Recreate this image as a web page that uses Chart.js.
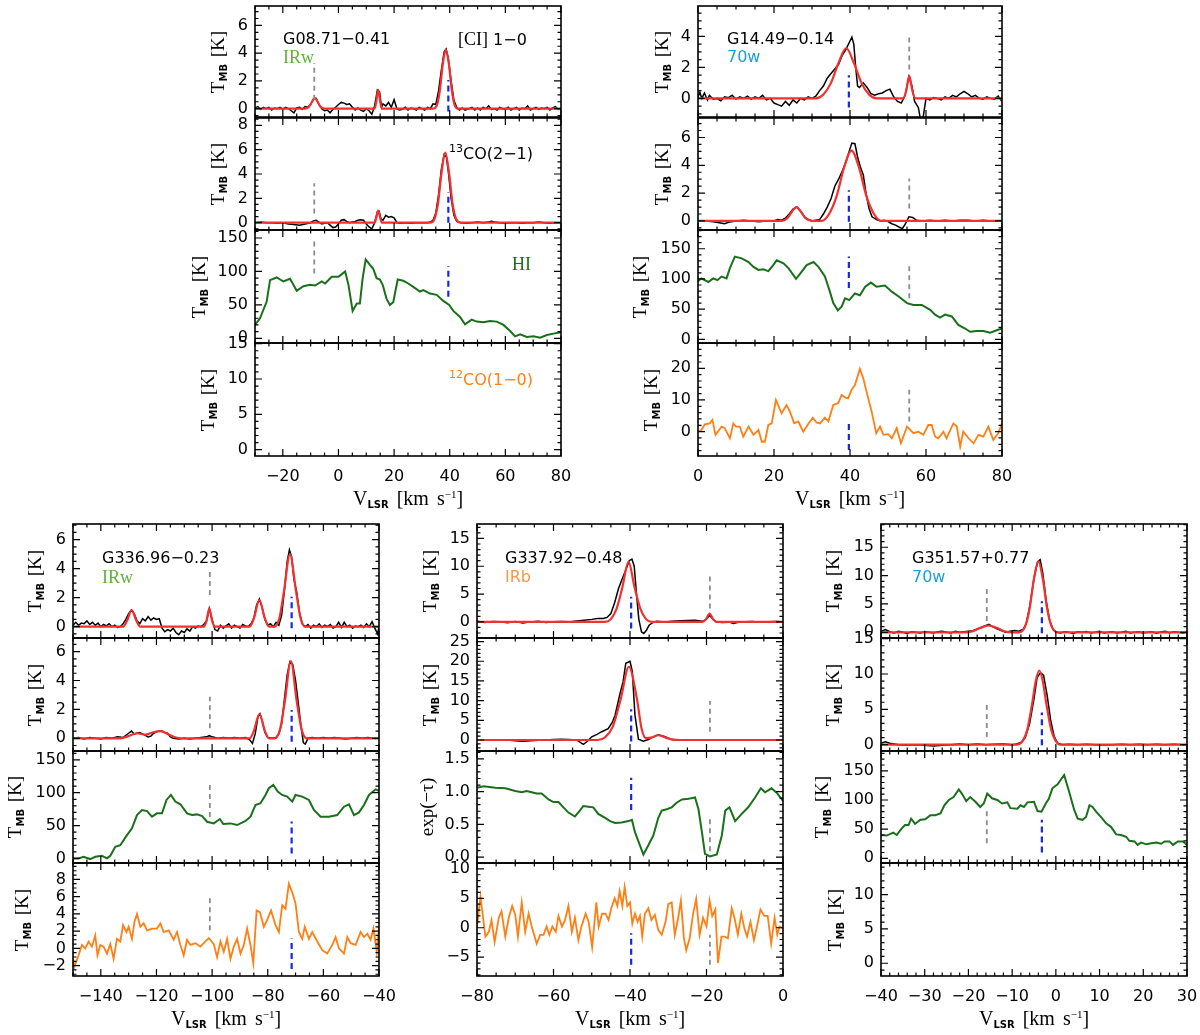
<!DOCTYPE html>
<html>
<head>
<meta charset="utf-8">
<script src="https://cdn.jsdelivr.net/npm/chart.js@4.4.0/dist/chart.umd.min.js"></script>
<style>
  body { margin: 0; background: #fff; width: 1200px; height: 1035px; position: relative; overflow: hidden; }
  canvas { position: absolute; }
  .t { position: absolute; white-space: nowrap; line-height: 1; transform: translateY(-50%); z-index: 5; }
  .sans { font-family: "DejaVu Sans", sans-serif; font-size: 16px; }
  .serif { font-family: "Liberation Serif", serif; font-size: 18px; }
  .yt { position: absolute; white-space: nowrap; line-height: 1; z-index: 5;
        font-family: "Liberation Serif", serif; font-size: 19px; word-spacing: 2px;
        transform: translate(-50%, -50%) rotate(-90deg); }
  .xt { position: absolute; white-space: nowrap; line-height: 1; z-index: 5;
        font-family: "Liberation Serif", serif; font-size: 20px; word-spacing: 3px; transform: translate(-50%, -50%); }
  sub.s { font-family: "DejaVu Sans", sans-serif; font-size: 10px; font-weight: bold; vertical-align: -3px; }
  sup.s { font-size: 11px; vertical-align: 7px; }
</style>
</head>
<body>
<script>
// ---------- G08.71-0.41 ----------
const g08XTicks = [-20, 0, 20, 40, 60, 80];
const g08CiObs = [[-30,0.05],[-29,0.15],[-28,-0.05],[-27,0.1],[-26,0],[-25,0.1],[-24,-0.1],[-23,0.05],[-22,0],[-21,0.1],[-20,-0.05],[-19,0.1],[-18,0],[-17,-0.15],[-16,-0.3],[-15,0.05],[-14,0.1],[-13,-0.05],[-12,0.15],[-11,0.1],[-10,0.3],[-9,0.7],[-8,0.75],[-7,0.3],[-6,0],[-5,-0.15],[-4,-0.1],[-3,-0.3],[-2,-0.05],[-1,0.1],[0,0.3],[1,0.45],[2,0.4],[3,0.3],[4,0.35],[5,0.1],[6,-0.1],[7,0.05],[8,-0.1],[9,-0.2],[10,0],[11,-0.15],[12,-0.4],[13,0.2],[14,1.35],[14.8,1.2],[15.5,0.1],[16,0.35],[17,0.2],[18,0.45],[19,0.1],[20,0.65],[21,0],[22,-0.1],[23,-0.05],[24,0.1],[25,-0.1],[26,0.05],[27,0],[28,-0.1],[29,0.1],[30,0],[31,-0.1],[32,0.1],[33,0],[34,0.35],[35,0.3],[36,1.3],[37,2.8],[38,4.1],[38.7,4.3],[39.5,3.6],[40.5,2],[41.5,0.6],[42.5,0.1],[43.5,-0.1],[44.5,0.05],[45.5,-0.1],[47,0],[48,0.1],[49,-0.1],[50,0.05],[51,-0.1],[52,0.1],[53,0],[54,0.2],[55,-0.05],[56,0],[57,-0.1],[58,0.1],[59,0],[60,-0.05],[61,0.1],[62,-0.1],[63,0],[64,0.1],[65,-0.1],[66,0.05],[67,0],[68,0.2],[69,-0.1],[70,0],[71,0.1],[72,-0.05],[73,0.05],[74,0],[75,0.1],[76,-0.1],[77,0.05],[78,0.15],[79,-0.05],[80,0]];
const g08CiFit = [[-30,0],[-12,0],[-10.5,0.15],[-9.5,0.5],[-8.5,0.76],[-7.5,0.5],[-6.5,0.15],[-5,0],[13,0],[13.6,0.5],[14.3,1.36],[15,0.5],[15.6,0],[34,0],[35.5,0.3],[36.5,1.4],[37.5,3.2],[38.6,4.25],[39.7,3.2],[40.7,1.4],[41.7,0.3],[43,0],[80,0]];
const g08CoObs = [[-30,0],[-28,0.05],[-26,0],[-24,0],[-22,-0.05],[-20,0],[-18,-0.1],[-16,-0.15],[-14,-0.2],[-12,-0.1],[-10,0],[-9,0.15],[-8,0.2],[-7,0.05],[-6,-0.1],[-5,-0.05],[-4,0],[-3,-0.2],[-2,-0.4],[-1,-0.35],[0,-0.1],[1,0.2],[2,0.25],[3,0.1],[4,0],[5,0.05],[6,0.1],[7,0.2],[8,0.25],[9,0.2],[10,-0.1],[11,-0.35],[12,-0.5],[13,0],[14,0.9],[14.6,0.95],[15.3,0.3],[16,0.2],[17,0.6],[18,0.45],[19,0.5],[20,0.4],[21,0],[22,-0.05],[24,0],[26,-0.05],[28,0],[30,0],[32,0],[33,0.05],[34,0.2],[35,0.8],[36,2.3],[37,4.4],[38,5.6],[38.8,5.4],[39.6,4],[40.5,2],[41.5,0.6],[42.5,0.1],[44,0],[46,-0.05],[48,0],[50,0.05],[52,0],[54,0.05],[55,0.12],[56,0.05],[58,0],[60,-0.05],[62,0],[64,0],[66,-0.05],[68,0],[70,0],[72,0.05],[74,0],[76,-0.05],[78,0],[80,0]];
const g08CoFit = [[-30,0],[13,0],[13.6,0.4],[14.3,1.0],[15,0.4],[15.6,0],[33,0],[34.5,0.3],[35.8,1.6],[37,4.0],[38.4,5.75],[39.8,4.0],[41,1.6],[42.3,0.3],[44,0],[80,0]];
const g08Hi = [[-30,20],[-28.2,30],[-25.8,55],[-24.6,87],[-22.2,91],[-19.8,85],[-17.4,89],[-15,71],[-12.6,78],[-10.2,80],[-8.4,79],[-6,85],[-4.8,82],[-2.4,92],[0,92],[1.2,96],[2.4,100],[3.6,80],[5.1,41],[6.6,52],[7.7,52],[8.7,90],[9.8,118],[11.3,110],[12.5,104],[13.7,90],[14.9,88],[15.9,80],[17.3,59],[18.5,50],[19.7,54],[21.3,88],[23.3,86],[25.1,82],[26.9,77],[29.3,70],[30.5,72],[32.9,67],[35.3,65],[37.7,56],[39.8,50],[41.3,41],[43.7,32],[45.5,21],[47.9,28],[49.7,25],[52.1,24],[54.5,26],[56.9,25],[59.3,20],[61.7,11],[63.5,3],[65.3,6],[67.7,2],[70.1,3],[72.5,1],[74.9,5],[77.3,7],[80,9]];
const g08Grey = -8.7, g08Blue = 39.5;
const g08GreyY = [[0.64,3.3],[0.75,3.25],[97,145],null];
const g08BlueY = [[-0.2,2.07],[0,2.5],[62,108],null];

// ---------- G14.49-0.14 ----------
const g14XTicks = [0, 20, 40, 60, 80];
const g14CiObs = [[0,0.1],[0.5,0.4],[1,0],[1.7,0.35],[2.5,-0.1],[3,0.2],[4,-0.05],[5,0],[6,-0.15],[7,0.1],[8,0.05],[9,0.2],[10,-0.05],[11,0.1],[12,0],[13,0.15],[14,-0.05],[15,0.1],[16,0],[17,0.2],[18,-0.1],[19,0],[20,-0.3],[21,-0.4],[22,-0.5],[23,-0.2],[24,-0.45],[25,-0.1],[26,-0.3],[27,0],[28,-0.1],[29,0.1],[30,0],[31,0.15],[32,0.5],[33,0.8],[34,1.3],[35,1.6],[36,1.9],[37,2.2],[38,2.8],[39,3.2],[40,3.7],[40.5,3.95],[41,3.5],[41.5,2],[42,0.8],[42.5,0.7],[43.5,1],[44.5,0.7],[45.5,0.3],[46.5,0.2],[47.5,0.3],[48.5,0.35],[49.5,0.5],[50.5,0.6],[51.5,0.1],[52.5,-0.2],[53.5,-0.3],[54.5,0.2],[55.5,1.4],[56.3,0.8],[57,-0.2],[58,-0.6],[58.5,-1.3],[59.2,-1.3],[60,0],[61,-0.1],[62,0.05],[63,0],[64,-0.1],[65,0.1],[66,0],[67,0.2],[68,0.1],[69,0.3],[70,0.45],[71,0.3],[72,0.1],[73,0.2],[74,0],[75,-0.05],[76,0.1],[77,0],[78,-0.05],[79,0.15],[80,-0.2]];
const g14CiFit = [[0,0],[31,0],[33,0.25],[35,1.0],[37,2.3],[39,3.25],[41,2.3],[43,1.0],[45,0.25],[47,0],[54,0],[54.8,0.5],[55.6,1.45],[56.4,0.5],[57.2,0],[80,0]];
const g14CoObs = [[0,0],[2,0],[4,-0.05],[6,-0.15],[7,-0.2],[8,-0.1],[10,0],[12,0.05],[14,0],[16,-0.05],[18,0],[20,0],[21,0.1],[22,0.05],[23,0.2],[24,0.5],[25,0.85],[26,1.0],[27,0.7],[28,0.3],[29,0.1],[30,0],[31,0.05],[32,0.1],[33,0.5],[34,1.0],[35,1.6],[36,2.5],[37,3.0],[38,3.6],[39,4.3],[40,5.2],[40.5,5.6],[41.3,5.55],[42,4.6],[42.7,3.9],[43.5,3.3],[44.2,2.0],[45,0.9],[45.8,0.3],[47,0.1],[48,0],[49,0.05],[50,-0.05],[51,-0.2],[52,-0.3],[53,-0.45],[53.8,-0.55],[54.6,-0.2],[55.5,0.3],[56.5,0.25],[57.5,0.05],[59,0],[61,0.05],[63,0],[65,0.05],[67,0],[69,0.05],[71,0.05],[73,0],[75,0.05],[77,0],[79,0],[80,0]];
const g14CoFit = [[0,0],[22,0],[23.5,0.2],[24.8,0.7],[25.9,1.0],[27,0.7],[28.3,0.2],[30,0],[32.5,0],[34.5,0.5],[36.5,1.8],[38.5,3.9],[40.4,5.05],[42.3,3.9],[44.3,1.8],[46.3,0.5],[48.3,0],[80,0]];
const g14Hi = [[0,96],[0.9,101],[2.7,95],[4,101],[5.1,98],[6.2,104],[7.5,101],[8.4,118],[9.7,137],[11.5,134],[13.3,128],[14.6,120],[15.9,115],[17.2,116],[18.5,113],[19.8,123],[20.7,131],[22.5,126],[23.8,118],[25.8,100],[27.3,112],[28.6,123],[30.4,128],[31.7,120],[33.4,104],[34.7,79],[35.6,60],[36.8,48],[37.8,54],[38.7,68],[39.8,65],[41.3,76],[42.6,73],[44,87],[45.5,94],[47,87],[49.2,89],[51,79],[52.8,71],[55,60],[56.7,57],[58.9,57],[61.1,49],[62.4,41],[63.7,36],[65,41],[66.8,38],[68.5,24],[70.3,18],[71.6,12.5],[73.4,14],[75.1,14],[76.9,11],[78.6,15],[80,18]];
const g14Co12 = [[0,0],[0.9,0.5],[1.8,2.3],[3.1,2.6],[3.8,3.7],[4.6,-1],[6.2,1.6],[7,1.1],[8.4,-2.1],[9.3,2.6],[10,1.6],[11,1.6],[11.9,-1.6],[13.3,1.6],[14.6,-1],[15.9,0.5],[16.8,-3.2],[17.6,-3.2],[18.5,2.1],[19.4,2.6],[20.5,10],[22,5.8],[23.3,8.4],[24.2,6.3],[25.3,2.6],[26.4,3.2],[27.7,0],[29.1,2.6],[30.2,4.4],[31.2,2.9],[32.1,2.6],[33.4,4.4],[34.3,3.2],[35.6,8.4],[36.9,9],[37.8,11.6],[38.7,10.8],[39.5,10.5],[40.4,13.2],[41.3,14.7],[42.6,19.8],[43.5,16.8],[44.8,10.5],[45.7,6.3],[46.9,-0.5],[47.9,1.6],[48.8,-1],[50.1,-0.8],[51,-2.1],[52.3,1.1],[53.4,-3.7],[55,1.6],[56.7,-0.5],[58,0],[59.3,-1],[60.6,2.1],[61.5,2.1],[62.4,-1.6],[63.2,-2.1],[64.6,0],[65.4,-2.1],[67.2,2.6],[68.1,1.6],[69,-4.7],[69.8,0],[71.2,-2.1],[72.5,-3.7],[73.8,-1],[75.1,-1.6],[76.4,1.6],[77.7,-2.6],[79,-0.5],[80,2.6]];
const g14Grey = 55.6, g14Blue = 39.7;
const g14GreyY = [[1.87,4.04],[0.9,3.05],[68,122],[3.2,13.2]];
const g14BlueY = [[-0.59,1.49],[-0.05,2.2],[85,137],[-5.8,3.7]];

// ---------- G336.96-0.23 ----------
const g336XTicks = [-140, -120, -100, -80, -60, -40];
const g336CiObs = [[-150,0.1],[-149,0.3],[-148,0.1],[-147,0.25],[-146,0.2],[-145,0.4],[-144,0.15],[-143,0.3],[-142,0.1],[-141,0.25],[-140,0],[-139,0.15],[-138,0.05],[-137,0.2],[-136,0],[-135,0.1],[-134,-0.05],[-133,0],[-132,0.2],[-131,0.5],[-130,0.9],[-129,1.15],[-128,0.9],[-127,0.4],[-126,0.2],[-125,0.55],[-124,0.4],[-123,0.7],[-122,0.45],[-121,0.6],[-120,0.5],[-119,0.55],[-118,-0.1],[-117,-0.35],[-116,-0.2],[-115,-0.3],[-114,-0.1],[-113,-0.4],[-112,-0.55],[-111,-0.3],[-110,-0.4],[-109,-0.15],[-108,-0.3],[-107,0],[-106,-0.1],[-105,0.05],[-104,0],[-103,0.15],[-102,0.4],[-101,1.25],[-100,0.5],[-99,-0.2],[-98,-0.3],[-97,0.1],[-96,-0.1],[-95,0.05],[-94,0.2],[-93,-0.1],[-92,0.1],[-91,0],[-90,-0.1],[-89,0.15],[-88,0.05],[-87,0],[-86,0.2],[-85,0.6],[-84,1.5],[-83,1.9],[-82,1.3],[-81,0.5],[-80,0.1],[-79,0.2],[-78,0],[-77,0.3],[-76,0.1],[-75,0.8],[-74,2.5],[-73,4.5],[-72.2,5.3],[-71.4,4.8],[-70.6,3.3],[-69.6,2.4],[-68.6,1.0],[-67.6,0.2],[-66.5,0],[-65.5,0.15],[-64.5,-0.1],[-63.5,0.1],[-62.5,0],[-61.5,0.2],[-60.5,-0.05],[-59.5,0.1],[-58.5,0],[-57.5,0.15],[-56.5,-0.1],[-55.5,0],[-54.5,0.3],[-53.5,-0.05],[-52.5,0.3],[-51.5,0],[-50.5,0.1],[-49.5,-0.1],[-48.5,0.05],[-47.5,0],[-46.5,0.1],[-45.5,-0.05],[-44.5,0.2],[-43.5,0],[-42.5,0.35],[-41.5,-0.1],[-40.5,-0.5],[-40,0]];
const g336CiFit = [[-150,0],[-132,0],[-130.5,0.45],[-128.9,1.15],[-127.3,0.45],[-125.8,0],[-103,0],[-102,0.4],[-101,1.27],[-100,0.4],[-99,0],[-86.5,0],[-85,0.55],[-83,1.84],[-81,0.55],[-79.5,0],[-77.5,0],[-75.8,0.6],[-74.2,2.4],[-72,4.99],[-69.8,2.4],[-68.2,0.6],[-66.5,0],[-40,0]];
const g336CoObs = [[-150,0],[-148,0.05],[-146,-0.05],[-144,0.05],[-142,0],[-140,-0.05],[-138,0.05],[-136,0],[-134,0.1],[-132,0.05],[-130,0.35],[-129,0.5],[-128,0.3],[-127,0.35],[-126,0.4],[-125,0.3],[-124,0.2],[-123,0.1],[-122,0.15],[-121,0.35],[-120,0.45],[-119,0.5],[-118,0.5],[-117,0.4],[-116,0.35],[-115,0.1],[-114,0],[-112,-0.05],[-110,0],[-108,-0.05],[-106,0],[-104,0.05],[-102,0.1],[-101,0.18],[-100,0.1],[-98,0],[-96,0.05],[-94,0],[-92,0.05],[-90,0],[-88,0.05],[-86.5,-0.1],[-85.5,-0.35],[-84.5,0.3],[-83.5,1.5],[-82.8,1.7],[-82,1.2],[-81,0.4],[-80,0.05],[-78.5,0],[-77,0.05],[-76,0.3],[-75,1.0],[-74,2.7],[-73,4.4],[-72,5.3],[-71,5.1],[-70,4.0],[-69,2.4],[-68,0.8],[-67.2,-0.3],[-66.5,-0.4],[-65.5,0],[-64,0.05],[-62,0],[-60,0.05],[-58,0],[-56,0.05],[-54,0],[-52,-0.05],[-50,0],[-48,0.05],[-46,0],[-44,0.05],[-42,0],[-40,0]];
const g336CoFit = [[-150,0],[-133,0],[-130,0.15],[-127,0.35],[-124,0.25],[-121.5,0.4],[-118.5,0.5],[-116,0.3],[-113,0.05],[-111,0],[-86.5,0],[-85,0.5],[-83,1.68],[-81,0.5],[-79.5,0],[-77.5,0],[-75.6,0.6],[-73.8,2.6],[-71.7,5.35],[-69.6,2.6],[-67.8,0.6],[-66,0],[-40,0]];
const g336Hi = [[-150,0],[-148,0],[-146.2,2.5],[-143.8,-1],[-142,2.5],[-139.6,4],[-137.8,0],[-136.6,4],[-134.8,17.7],[-133,20],[-130.6,35.5],[-128.8,45.7],[-127,65.9],[-125.2,73.5],[-123.4,72],[-121.6,63.5],[-119.8,68.6],[-118,68.6],[-116.4,89],[-114.8,96.6],[-113.2,86.5],[-111.4,82.4],[-109,68.6],[-107.2,66],[-105.4,67],[-103.6,64.5],[-101.8,55.8],[-99.4,53.3],[-97.2,59.9],[-96,52.3],[-93.4,53.3],[-91,50.8],[-88,56.9],[-86.2,63.5],[-84.4,81.3],[-82.6,83.9],[-80.8,96.6],[-79.6,106.8],[-78,111.8],[-76.4,101.6],[-74.8,96.6],[-73,94],[-71.2,86.4],[-70,96.6],[-67.6,94],[-65.2,89],[-63.4,73.7],[-61,63.5],[-58,63.5],[-55,66],[-52.6,78.7],[-50.8,82.4],[-49,66],[-47.2,70],[-45.4,81.3],[-43.6,96.6],[-41.2,105.2],[-40,103]];
const g336Co12 = [[-150,-1.2],[-149.5,-2.1],[-148,-0.8],[-146.8,0.4],[-145.6,0],[-144.4,0.8],[-143.2,0.2],[-142,1.5],[-141.2,-0.8],[-140.2,0.4],[-139,0.2],[-137.8,-0.6],[-136.6,0.5],[-135.4,-1.2],[-134.2,1.1],[-133,0.8],[-132,2.7],[-130.8,1.9],[-130,2.5],[-128.8,1.1],[-127.9,3.1],[-127,4.0],[-125.8,2.5],[-124.6,2.9],[-123.4,2.1],[-121.6,2.3],[-119.8,2.3],[-118.6,2.9],[-117.4,1.9],[-115.6,2.1],[-113.8,1.0],[-112.6,1.9],[-111.4,0.4],[-110.2,-0.8],[-109,1.0],[-107.8,0.4],[-106,0.6],[-104.2,0.2],[-102.4,0.8],[-101.2,1.2],[-99.4,0.5],[-98.2,-1.0],[-97,0.8],[-95.8,-0.4],[-94.6,1.1],[-93.4,-1.2],[-92.2,0.2],[-91,1.1],[-89.8,-0.6],[-88.6,0.4],[-87.4,2.3],[-86.2,0.4],[-85.2,-1.7],[-84,4.4],[-82.8,4.2],[-81.4,2.5],[-80.2,3.3],[-78.8,4.4],[-77.2,2.7],[-76,1.9],[-74.8,5.0],[-73.6,4.6],[-72.4,7.5],[-71.2,6.5],[-70,5.2],[-68.8,1.9],[-67.6,1.1],[-66.7,2.5],[-65.2,1.1],[-64,1.9],[-62.2,0.8],[-60.4,-0.2],[-58.6,-0.6],[-56.8,0.4],[-55.6,1.3],[-54.4,0],[-52.6,-0.6],[-51.4,1.3],[-50.2,0.6],[-48.4,0.4],[-46.6,1.9],[-45.4,1.3],[-44.2,1.7],[-43,1.0],[-42,2.3],[-40.8,-0.4],[-40,2.5]];
const g336Grey = -100.8, g336Blue = -71.4;
const g336GreyY = [[2.19,4.03],[0.69,2.88],[63,113],[2.1,5.8]];
const g336BlueY = [[-0.11,2.07],[-0.24,1.96],[7.6,56],[-2.4,1.16]];

// ---------- G337.92-0.48 ----------
const g337XTicks = [-80, -60, -40, -20, 0];
const g337CiObs = [[-80,0.1],[-78,-0.1],[-76,0.05],[-74,0],[-72,-0.15],[-70,0.05],[-68,-0.2],[-66,0],[-64,0.1],[-62,-0.1],[-60,0],[-58,0.05],[-56,0],[-54,0.15],[-52,0.3],[-50,0.45],[-48.5,0.6],[-47,0.6],[-46,0.8],[-45,1.5],[-44,3.5],[-43,6.0],[-42,7.8],[-41,9.5],[-40.2,11.0],[-39.5,11.3],[-38.9,10.0],[-38.3,5.0],[-37.7,0.5],[-37,-1.8],[-36.4,-2.1],[-35.7,-1.5],[-35,-0.6],[-34,-0.1],[-33,0.1],[-31,0],[-29,0.1],[-27,0.2],[-25,0.25],[-23,0.3],[-22,0.2],[-21,0.1],[-20,0.5],[-19.2,1.2],[-18.5,0.6],[-17.5,0],[-16,-0.1],[-14,-0.05],[-13,-0.3],[-12,-0.1],[-10,0],[-8,0.05],[-6,-0.05],[-4,0],[-2,0.05],[0,0]];
const g337CiFit = [[-80,0],[-46.5,0],[-45,0.5],[-43.5,2.4],[-42,6.2],[-40.4,10.8],[-38.8,6.2],[-37.3,2.4],[-35.8,0.5],[-34.3,0],[-21,0],[-20.1,0.5],[-19.2,1.5],[-18.3,0.5],[-17.4,0],[0,0]];
const g337CoObs = [[-80,0],[-76,0.05],[-72,0],[-70,-0.2],[-68,-0.35],[-66,-0.2],[-64,-0.1],[-62,0],[-60,0.15],[-58,0.2],[-56,0.1],[-54,0],[-53,-0.6],[-52.2,-1.1],[-51.2,-0.4],[-50,0.8],[-48.5,1.5],[-47.4,2.1],[-45.7,2.9],[-44.6,4.5],[-43.9,6.3],[-42.6,11.8],[-41.8,14.8],[-41.1,19.5],[-40,20.0],[-39.4,17.4],[-38.7,6.3],[-37.8,0.2],[-36.5,-0.3],[-35.2,0.1],[-34.3,0.6],[-32.6,1.3],[-30.8,0.8],[-29.1,0.1],[-27,0],[-24,0.05],[-21,0],[-18,-0.05],[-15,0],[-12,0.05],[-9,0],[-6,0],[-3,0.05],[0,0]];
const g337CoFit = [[-80,0],[-48.5,0],[-46.5,0.7],[-44.5,3.4],[-42.4,10.5],[-40.3,18.6],[-38.2,10.5],[-37,3.0],[-35.8,0.5],[-34.5,0.6],[-32.6,1.2],[-30.7,0.6],[-28.8,0.1],[-27,0],[0,0]];
const g337Tau = [[-80,1.06],[-78.3,1.08],[-75.2,1.06],[-72.6,1.05],[-70,1.01],[-68.3,0.99],[-67,1.01],[-65.7,0.99],[-64.4,0.97],[-63.1,0.97],[-61.3,0.88],[-60,0.84],[-58.7,0.84],[-57.4,0.76],[-56.1,0.68],[-54.4,0.62],[-53.1,0.71],[-52.2,0.78],[-50.9,0.77],[-49.6,0.76],[-48.3,0.66],[-46.5,0.6],[-45.2,0.55],[-43.9,0.52],[-42.2,0.53],[-40.4,0.55],[-39.5,0.57],[-38.7,0.38],[-37.4,0.18],[-36.5,0.04],[-35.2,0.18],[-33.9,0.33],[-32.6,0.6],[-31.7,0.71],[-30.4,0.73],[-29.1,0.76],[-27.8,0.83],[-26.4,0.88],[-24.7,0.89],[-23,0.91],[-22.1,0.73],[-21.2,0.38],[-20.4,0.05],[-19.1,0.01],[-17.3,0.04],[-16,0.33],[-15.1,0.71],[-14,0.76],[-12.5,0.55],[-10.8,0.66],[-9.1,0.76],[-7.3,0.91],[-5.8,1.05],[-4.7,0.99],[-3,1.05],[-1.6,0.98],[0,0.86]];
const g337Co12 = [[-80,0.2],[-79.1,5.3],[-78.5,2.2],[-77.8,-1.5],[-76.9,-0.7],[-76.2,1.3],[-75.4,-2.4],[-74.3,1.7],[-73.6,2.8],[-72.6,-1.5],[-71.7,1.7],[-70.8,3.7],[-70,2.2],[-69.3,-1.5],[-68.3,4.3],[-67.4,-0.7],[-66.5,2.4],[-65.7,0.2],[-64.4,-2.7],[-63.5,-1.2],[-62.6,-1.2],[-61.8,0.2],[-61.1,-1.2],[-60.3,0.2],[-59.4,-0.7],[-58.7,2.0],[-57.8,0.2],[-57,1.3],[-56.1,3.7],[-55.2,-0.7],[-54.4,1.7],[-53.5,-2.1],[-52.7,0.2],[-51.6,2.4],[-50.8,1.0],[-49.9,-3.3],[-48.8,4.3],[-48.2,0.2],[-47.3,2.4],[-46.4,2.4],[-45.6,1.3],[-44.9,3.3],[-44,5.0],[-43.3,3.7],[-42.7,6.2],[-42,3.7],[-41.4,6.9],[-40.7,3.7],[-40,4.3],[-39.4,0.7],[-38.7,2.4],[-38,1.0],[-37.4,2.0],[-36.8,-1.5],[-36.1,2.4],[-35.2,3.3],[-34.4,1.3],[-33.5,2.2],[-32.6,-0.4],[-31.7,-1.2],[-30.7,1.0],[-30,4.0],[-29.1,4.3],[-28.3,-1.2],[-27.4,1.7],[-26.7,4.6],[-25.9,-1.8],[-25.3,-3.8],[-24.4,-1.8],[-23.5,2.4],[-22.7,4.9],[-21.8,-1.2],[-20.9,1.7],[-20,0.2],[-19.2,4.6],[-18.5,2.0],[-17.7,3.1],[-17,-6.0],[-16.1,-1.5],[-15.3,-1.5],[-14.4,-1.8],[-13.4,3.3],[-12.7,1.7],[-11.8,-1.2],[-10.9,2.4],[-10.1,-0.1],[-9.4,-1.5],[-8.5,1.0],[-7.6,-2.1],[-6.8,0.2],[-5.9,3.1],[-4.9,2.0],[-4,2.0],[-3.1,-2.7],[-2.2,1.7],[-1.5,-1.2],[-0.9,0.2],[0,-0.1]];
const g337Grey = -19.1, g337Blue = -39.7;
const g337GreyY = [[2.4,8.4],[2.1,9.9],[0.09,0.62],[-6.3,-1.2]];
const g337BlueY = [[-1.2,4.5],[-0.4,7.8],[0.72,1.21],[-6.3,-0.95]];

// ---------- G351.57+0.77 ----------
const g351XTicks = [-40, -30, -20, -10, 0, 10, 20, 30];
const g351CiObs = [[-40,0.2],[-39,0.5],[-38,0.1],[-37,-0.1],[-36,0.2],[-35,0],[-34,-0.2],[-33,0.1],[-32,0],[-31,-0.1],[-30,0.15],[-29,0],[-28,-0.1],[-27,0.1],[-26,0.2],[-25,0],[-24,-0.1],[-23,0.2],[-22,0],[-21,0.1],[-20,0.2],[-19,0.3],[-18,0.6],[-17,0.9],[-16,1.2],[-15.3,1.4],[-14.5,1.0],[-13.5,0.6],[-12.5,0.3],[-11.5,0],[-10.5,0.2],[-9.5,0.3],[-8.5,0.2],[-7.5,0.5],[-6.8,1.5],[-6,4.5],[-5,9.5],[-4.2,12.4],[-3.6,12.8],[-3,10.5],[-2.2,5.5],[-1.4,2.0],[-0.6,0.5],[0.2,0],[1,-0.1],[2,0.1],[3,0],[4,-0.2],[5,0.1],[6,0],[7,0.15],[8,-0.1],[9,0],[10,0.2],[11,-0.1],[12,0],[13,0.1],[14,-0.1],[15,0],[16,0.2],[17,-0.1],[18,0],[19,0.1],[20,-0.1],[21,0],[22,0.1],[23,-0.15],[24,0.05],[25,0.2],[26,-0.1],[27,0.1],[28,0],[29,-0.1],[30,0]];
const g351CiFit = [[-40,0],[-21,0],[-19,0.2],[-17.2,0.8],[-15.4,1.2],[-13.6,0.8],[-11.8,0.2],[-10,0],[-8.5,0],[-7,1.1],[-6,4.2],[-5,9.5],[-4,12.5],[-3,9.5],[-2,4.2],[-1,1.1],[0.5,0],[30,0]];
const g351CoObs = [[-40,0.2],[-39,0.4],[-38,0.2],[-36,0],[-34,-0.1],[-32,0],[-30,-0.1],[-28,-0.2],[-26,-0.1],[-24,0],[-22,0.1],[-20,0],[-18,0.1],[-16,0],[-14,0.05],[-12,0.1],[-10,0],[-9,0.1],[-8,0.3],[-7,1.0],[-6,3.0],[-5,6.5],[-4.3,9.5],[-3.5,10.2],[-2.8,9.8],[-2,7.0],[-1.2,3.5],[-0.4,1.2],[0.4,0.2],[1.5,0],[3,0.05],[5,0],[7,0.05],[9,0],[11,-0.05],[13,0],[15,0.05],[17,0],[19,0.05],[21,0],[23,0.05],[25,0],[27,0.05],[29,0],[30,0]];
const g351CoFit = [[-40,0],[-9,0],[-7.5,0.6],[-6.5,2.2],[-5.5,5.5],[-4.6,9.0],[-3.8,10.5],[-3,9.0],[-2.1,5.5],[-1.1,2.2],[-0.1,0.6],[1,0],[30,0]];
const g351Hi = [[-40,40],[-38.7,39],[-37.2,44],[-36.4,40],[-35.3,51],[-34.5,57],[-33.7,57],[-33.1,68],[-32.2,59],[-31,66],[-29.9,67],[-28.7,74],[-27.6,74],[-26.4,77],[-25.5,91],[-24.5,100],[-23.4,105],[-22.2,118],[-21.5,111],[-20.5,98],[-19.6,105],[-18.4,97],[-17.3,88],[-16.5,94],[-15.7,111],[-14.6,103],[-13.4,100],[-12.3,94],[-11.1,96],[-10.4,86],[-8.8,85],[-8.1,91],[-7.3,88],[-6.5,96],[-5,97],[-4.2,81],[-3.3,80],[-2.3,94],[-1.6,102],[-0.8,120],[0.4,127],[1.9,143],[3,115],[4.2,83],[5,68],[6.1,66],[6.9,71],[7.7,91],[8.4,88],[9.2,80],[10.3,71],[11.5,60],[12.6,54],[13.8,41],[14.9,40],[16.1,37],[16.8,30],[18,29],[18.7,23],[19.5,27],[20.7,24],[21.8,26],[23,27],[24.1,25],[24.9,29],[26,29],[26.8,23],[27.9,29],[29.1,29],[30,23]];
const g351Grey = -15.8, g351Blue = -3.2;
const g351GreyY = [[2.0,7.9],[1.1,5.6],[26,83],null];
const g351BlueY = [[-0.18,5.5],[-0.07,4.56],[10,66],null];

// ---------- layout ----------
const YW = 60, PT = 20, PB = 20, PR = 30, XH = 34;
const TB = 'T<sub class="s">MB</sub> [K]';

const groups = [
  { left: 255, width: 306, tops: [6, 117.5, 230, 343, 456], xMin: -30, xMax: 80, xTicks: g08XTicks, xMinor: 5,
    vGrey: g08Grey, vBlue: g08Blue, greyY: g08GreyY, blueY: g08BlueY, titleY: 499,
    panels: [
      { yMin: -0.6, yMax: 7.4, yTicks: [0, 2, 4, 6], yMinor: 0.5, tx: 218, series: [[g08CiObs, 'obs'], [g08CiFit, 'fit']] },
      { yMin: -0.6, yMax: 8.6, yTicks: [0, 2, 4, 6, 8], yMinor: 0.5, tx: 218, series: [[g08CoObs, 'obs'], [g08CoFit, 'fit']] },
      { yMin: -7, yMax: 162, yTicks: [0, 50, 100, 150], yMinor: 10, tx: 199, series: [[g08Hi, 'hi']] },
      { yMin: -0.9, yMax: 15.1, yTicks: [0, 5, 10, 15], yMinor: 1, tx: 208, series: [] }
    ] },
  { left: 698, width: 304, tops: [6, 117.5, 230, 343, 456], xMin: 0, xMax: 80, xTicks: g14XTicks, xMinor: 5,
    vGrey: g14Grey, vBlue: g14Blue, greyY: g14GreyY, blueY: g14BlueY, titleY: 499,
    panels: [
      { yMin: -1.2, yMax: 5.96, yTicks: [0, 2, 4], yMinor: 0.5, tx: 662, series: [[g14CiObs, 'obs'], [g14CiFit, 'fit']] },
      { yMin: -0.65, yMax: 7.4, yTicks: [0, 2, 4, 6], yMinor: 0.5, tx: 662, series: [[g14CoObs, 'obs'], [g14CoFit, 'fit']] },
      { yMin: -6, yMax: 181, yTicks: [0, 50, 100, 150], yMinor: 10, tx: 640, series: [[g14Hi, 'hi']] },
      { yMin: -7.7, yMax: 28, yTicks: [0, 10, 20], yMinor: 2, tx: 651, series: [[g14Co12, 'co']] }
    ] },
  { left: 73, width: 306, tops: [524, 638, 751, 863, 976], xMin: -150, xMax: -40, xTicks: g336XTicks, xMinor: 5,
    vGrey: g336Grey, vBlue: g336Blue, greyY: g336GreyY, blueY: g336BlueY, titleY: 1019,
    panels: [
      { yMin: -0.78, yMax: 7.08, yTicks: [0, 2, 4, 6], yMinor: 0.5, tx: 35, series: [[g336CiObs, 'obs'], [g336CiFit, 'fit']] },
      { yMin: -0.88, yMax: 6.94, yTicks: [0, 2, 4, 6], yMinor: 0.5, tx: 35, series: [[g336CoObs, 'obs'], [g336CoFit, 'fit']] },
      { yMin: -7, yMax: 163.5, yTicks: [0, 50, 100, 150], yMinor: 10, tx: 15, series: [[g336Hi, 'hi']] },
      { yMin: -3.2, yMax: 9.9, yTicks: [-2, 0, 2, 4, 6, 8], yMinor: 0.5, tx: 22, series: [[g336Co12, 'co']] }
    ] },
  { left: 477, width: 306, tops: [524, 638, 751, 863, 976], xMin: -80, xMax: 0, xTicks: g337XTicks, xMinor: 5,
    vGrey: g337Grey, vBlue: g337Blue, greyY: g337GreyY, blueY: g337BlueY, titleY: 1019,
    panels: [
      { yMin: -2.9, yMax: 17.6, yTicks: [0, 5, 10, 15], yMinor: 1, tx: 430, series: [[g337CiObs, 'obs'], [g337CiFit, 'fit']] },
      { yMin: -2.8, yMax: 25.9, yTicks: [0, 5, 10, 15, 20, 25], yMinor: 1, tx: 430, series: [[g337CoObs, 'obs'], [g337CoFit, 'fit']] },
      { yMin: -0.09, yMax: 1.62, yTicks: [0, 0.5, 1, 1.5], yMinor: 0.1, dec: 1, tx: 426, title: 'exp(−τ)', series: [[g337Tau, 'hi']] },
      { yMin: -8.2, yMax: 11, yTicks: [-5, 0, 5, 10], yMinor: 1, tx: null, series: [[g337Co12, 'co']] }
    ] },
  { left: 881, width: 306, tops: [524, 638, 751, 863, 976], xMin: -40, xMax: 30, xTicks: g351XTicks, xMinor: 2,
    vGrey: g351Grey, vBlue: g351Blue, greyY: g351GreyY, blueY: g351BlueY, titleY: 1019,
    panels: [
      { yMin: -1, yMax: 19.1, yTicks: [0, 5, 10, 15], yMinor: 1, tx: 833, series: [[g351CiObs, 'obs'], [g351CiFit, 'fit']] },
      { yMin: -0.9, yMax: 15.1, yTicks: [0, 5, 10, 15], yMinor: 1, tx: 833, series: [[g351CoObs, 'obs'], [g351CoFit, 'fit']] },
      { yMin: -8, yMax: 184, yTicks: [0, 50, 100, 150], yMinor: 10, tx: 822, series: [[g351Hi, 'hi']] },
      { yMin: -1.86, yMax: 14.6, yTicks: [0, 5, 10], yMinor: 1, tx: 835, series: [] }
    ] }
];

const sty = {
  obs: { color: '#000000', w: 1.5, order: 3 },
  fit: { color: '#f23030', w: 2.2, order: 2 },
  hi:  { color: '#1a701a', w: 2, order: 3 },
  co:  { color: '#ff7f14', w: 1.8, order: 3 }
};

Chart.defaults.font.family = '"DejaVu Sans", sans-serif';
Chart.defaults.font.size = 16;
Chart.defaults.color = '#000';

const minus = s => s.replace('-', '\u2212');

// box + inward IDL style ticks on all four sides
const frameTicks = {
  id: 'frameTicks',
  afterDraw(chart, args, o) {
    const { ctx, chartArea: a } = chart;
    const sx = chart.scales.x, sy = chart.scales.y;
    ctx.save();
    ctx.strokeStyle = '#000';
    ctx.lineWidth = 1.2;
    ctx.beginPath();
    for (let k = Math.ceil(sx.min / o.xMinor - 1e-9); k * o.xMinor <= sx.max + 1e-9; k++) {
      const v = k * o.xMinor, px = sx.getPixelForValue(v);
      const len = o.xTicks.some(t => Math.abs(t - v) < 1e-6) ? 7 : 3.5;
      ctx.moveTo(px, a.bottom); ctx.lineTo(px, a.bottom - len);
      ctx.moveTo(px, a.top); ctx.lineTo(px, a.top + len);
    }
    for (let k = Math.ceil(sy.min / o.yMinor - 1e-9); k * o.yMinor <= sy.max + 1e-9; k++) {
      const v = k * o.yMinor, py = sy.getPixelForValue(v);
      const len = o.yTicks.some(t => Math.abs(t - v) < 1e-6) ? 7 : 3.5;
      ctx.moveTo(a.left, py); ctx.lineTo(a.left + len, py);
      ctx.moveTo(a.right, py); ctx.lineTo(a.right - len, py);
    }
    ctx.stroke();
    ctx.lineWidth = 1.6;
    ctx.strokeRect(a.left, a.top, a.width, a.height);
    ctx.restore();
  }
};

function mark(v, yy, color, dash, w) {
  return { data: [[v, yy[0]], [v, yy[1]]], borderColor: color, borderDash: dash, borderWidth: w,
           pointRadius: 0, order: color === '#8c8c8c' ? 1 : 0 };
}

function addPanel(g, i) {
  const p = g.panels[i];
  const top = g.tops[i], h = g.tops[i + 1] - top, last = i === g.panels.length - 1;
  const cv = document.createElement('canvas');
  cv.width = YW + g.width + PR;
  cv.height = PT + h + (last ? XH : PB);
  cv.style.left = (g.left - YW) + 'px';
  cv.style.top = (top - PT) + 'px';
  document.body.appendChild(cv);

  const datasets = p.series.map(([data, kind]) => ({
    data, borderColor: sty[kind].color, borderWidth: sty[kind].w, order: sty[kind].order,
    pointRadius: 0, tension: 0, cubicInterpolationMode: kind === 'fit' ? 'monotone' : 'default'
  }));
  if (g.greyY[i]) datasets.push(mark(g.vGrey, g.greyY[i], '#8c8c8c', [5, 4], 1.8));
  if (g.blueY[i]) datasets.push(mark(g.vBlue, g.blueY[i], '#1428e6', [6, 4], 2.2));

  new Chart(cv, {
    type: 'line',
    data: { datasets },
    options: {
      responsive: false, animation: false, events: [],
      layout: { padding: { top: PT, right: PR, bottom: last ? 0 : PB, left: 0 } },
      plugins: { legend: { display: false }, tooltip: { enabled: false },
        frameTicks: { xMinor: g.xMinor, xTicks: g.xTicks, yMinor: p.yMinor, yTicks: p.yTicks } },
      scales: {
        x: { type: 'linear', min: g.xMin, max: g.xMax,
          grid: { display: false, drawTicks: false }, border: { display: false },
          ticks: { display: last, padding: 11, maxRotation: 0, autoSkip: false,
            callback: v => minus(String(v)) },
          afterBuildTicks: s => { s.ticks = g.xTicks.map(v => ({ value: v })); },
          afterFit: s => { s.height = last ? XH : 0; } },
        y: { type: 'linear', min: p.yMin, max: p.yMax,
          grid: { display: false, drawTicks: false }, border: { display: false },
          ticks: { padding: 7, autoSkip: false,
            callback: v => minus(p.dec ? v.toFixed(p.dec) : String(v)) },
          afterBuildTicks: s => { s.ticks = p.yTicks.map(v => ({ value: v })); },
          afterFit: s => { s.width = YW; } }
      }
    },
    plugins: [frameTicks]
  });

  if (p.tx !== null) {
    const d = document.createElement('div');
    d.className = 'yt';
    d.style.left = p.tx + 'px';
    d.style.top = (top + h / 2) + 'px';
    d.innerHTML = p.title || TB;
    document.body.appendChild(d);
  }
}

groups.forEach(g => {
  g.panels.forEach((p, i) => addPanel(g, i));
  const d = document.createElement('div');
  d.className = 'xt';
  d.style.left = (g.left + g.width / 2) + 'px';
  d.style.top = g.titleY + 'px';
  d.innerHTML = 'V<sub class="s">LSR</sub> [km s<sup class="s">−1</sup>]';
  document.body.appendChild(d);
});

// panel labels
const labels = [
  ['G08.71−0.41', 283, 39, 'sans', '#000'],
  ['IRw', 283, 57, 'serif', '#5cb533'],
  ['<span class="serif">[CI]</span>  1−0', 458, 39, 'sans', '#000'],
  ['<sup class="s">13</sup>CO(2−1)', 449, 152, 'sans', '#000'],
  ['HI', 512, 264, 'serif', '#1a701a'],
  ['<sup class="s">12</sup>CO(1−0)', 449, 378, 'sans', '#ff7f14'],
  ['G14.49−0.14', 727, 39, 'sans', '#000'],
  ['70w', 727, 57, 'sans', '#1e9fd6'],
  ['G336.96−0.23', 102, 558, 'sans', '#000'],
  ['IRw', 102, 577, 'serif', '#5cb533'],
  ['G337.92−0.48', 505, 558, 'sans', '#000'],
  ['IRb', 505, 577, 'sans', '#f09a4a'],
  ['G351.57+0.77', 912, 558, 'sans', '#000'],
  ['70w', 912, 577, 'sans', '#1e9fd6']
];
labels.forEach(([html, x, y, cls, color]) => {
  const d = document.createElement('div');
  d.className = 't ' + cls;
  d.style.left = x + 'px';
  d.style.top = y + 'px';
  d.style.color = color;
  d.innerHTML = html;
  document.body.appendChild(d);
});
</script>
</body>
</html>
